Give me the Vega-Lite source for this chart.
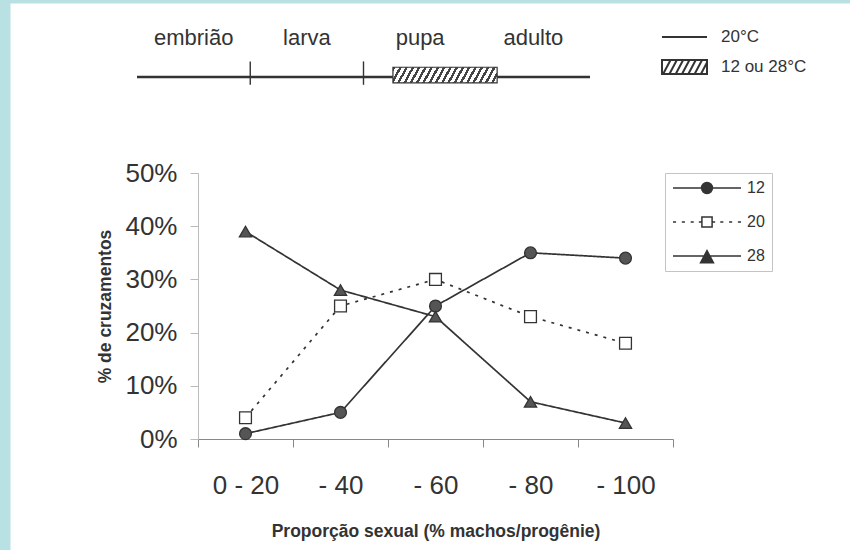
{
  "$schema": "https://vega.github.io/schema/vega-lite/v6.json",
  "width": 840,
  "height": 547,
  "autosize": {"type": "none"},
  "padding": {"left": 10, "top": 3, "right": 0, "bottom": 0},
  "background": "#b9e0e3",
  "view": {"fill": "white", "stroke": "transparent"},
  "config": {
    "view": {"fill": "white", "stroke": "transparent"},
    "font": "Liberation Sans",
    "axis": {"grid": false, "labelFont": "Liberation Sans", "titleFont": "Liberation Sans", "labelColor": "#333", "titleColor": "#333"},
    "legend": {"labelFont": "Liberation Sans", "labelColor": "#333"},
    "text": {"font": "Liberation Sans"}
  },
  "datasets": {
    "cruzamentos": [
      {"faixa": "0 - 20", "serie": "12", "pct": 0.01},
      {"faixa": "- 40", "serie": "12", "pct": 0.05},
      {"faixa": "- 60", "serie": "12", "pct": 0.25},
      {"faixa": "- 80", "serie": "12", "pct": 0.35},
      {"faixa": "- 100", "serie": "12", "pct": 0.34},
      {"faixa": "0 - 20", "serie": "20", "pct": 0.04},
      {"faixa": "- 40", "serie": "20", "pct": 0.25},
      {"faixa": "- 60", "serie": "20", "pct": 0.30},
      {"faixa": "- 80", "serie": "20", "pct": 0.23},
      {"faixa": "- 100", "serie": "20", "pct": 0.18},
      {"faixa": "0 - 20", "serie": "28", "pct": 0.39},
      {"faixa": "- 40", "serie": "28", "pct": 0.28},
      {"faixa": "- 60", "serie": "28", "pct": 0.23},
      {"faixa": "- 80", "serie": "28", "pct": 0.07},
      {"faixa": "- 100", "serie": "28", "pct": 0.03}
    ],
    "series": [
      {"serie": "12"},
      {"serie": "20"},
      {"serie": "28"}
    ],
    "estagios": [
      {"estagio": "embrião", "inicio": 0, "fim": 1, "centro": 0.5},
      {"estagio": "larva", "inicio": 1, "fim": 2, "centro": 1.5},
      {"estagio": "pupa", "inicio": 2, "fim": 3, "centro": 2.5},
      {"estagio": "adulto", "inicio": 3, "fim": 4, "centro": 3.5}
    ],
    "tratamento": [
      {"temperatura": "12 ou 28°C", "inicio": 2.26, "fim": 3.18}
    ],
    "temperaturas": [
      {"temperatura": "20°C"},
      {"temperatura": "12 ou 28°C"}
    ]
  },
  "layer": [
    {
      "data": {"name": "cruzamentos"},
      "encoding": {
        "x": {
          "field": "faixa", "type": "ordinal",
          "sort": ["0 - 20", "- 40", "- 60", "- 80", "- 100"],
          "scale": {"domain": ["0 - 20", "- 40", "- 60", "- 80", "- 100"], "range": [188, 663], "paddingInner": 0, "paddingOuter": 0},
          "axis": {
            "title": "Proporção sexual (% machos/progênie)",
            "titleFontSize": 17.5, "titleFontWeight": "bold", "titlePadding": 24,
            "labelFontSize": 26, "labelPadding": 25, "labelAngle": 0,
            "tickSize": 8, "tickBand": "extent", "offset": -111,
            "domainColor": "#888", "tickColor": "#888"
          }
        },
        "y": {
          "field": "pct", "type": "quantitative",
          "scale": {"domain": [0, 0.5], "range": [436, 170], "nice": false},
          "axis": {
            "title": "% de cruzamentos",
            "titleFontSize": 17.5, "titleFontWeight": "bold", "titlePadding": 10,
            "labelFontSize": 26, "labelPadding": 13,
            "values": [0, 0.1, 0.2, 0.3, 0.4, 0.5], "format": ".0%",
            "tickSize": 8, "offset": -188,
            "domainColor": "#bbb", "tickColor": "#bbb"
          }
        }
      },
      "layer": [
        {
          "mark": {"type": "line", "stroke": "#333", "strokeWidth": 1.7},
          "encoding": {
            "detail": {"field": "serie", "type": "nominal"},
            "strokeDash": {
              "field": "serie", "type": "nominal",
              "scale": {"domain": ["12", "20", "28"], "range": [[1, 0], [3, 6], [1, 0]]},
              "legend": null
            }
          }
        },
        {
          "transform": [{"filter": "datum.serie == '12'"}],
          "mark": {"type": "point", "shape": "circle", "filled": true, "fill": "#555555", "stroke": "#333", "strokeWidth": 1.3, "opacity": 1, "size": 140}
        },
        {
          "transform": [{"filter": "datum.serie == '20'"}],
          "mark": {"type": "point", "shape": "square", "filled": true, "fill": "#ffffff", "stroke": "#333", "strokeWidth": 1.3, "opacity": 1, "size": 140}
        },
        {
          "transform": [{"filter": "datum.serie == '28'"}],
          "mark": {"type": "point", "shape": "triangle-up", "filled": true, "fill": "#555555", "stroke": "#333", "strokeWidth": 1.3, "opacity": 1, "size": 150}
        }
      ]
    },
    {
      "data": {"name": "series"},
      "transform": [{"filter": "false"}],
      "mark": {"type": "point", "filled": false, "stroke": "#333", "strokeWidth": 1.5, "opacity": 1},
      "encoding": {
        "shape": {
          "field": "serie", "type": "nominal",
          "scale": {
            "domain": ["12", "20", "28"],
            "range": [
              "M-1,0H1M-0.16,0A0.16,0.16,0,1,0,0.16,0A0.16,0.16,0,1,0,-0.16,0M-0.12,0A0.12,0.12,0,1,0,0.12,0A0.12,0.12,0,1,0,-0.12,0M-0.08,0A0.08,0.08,0,1,0,0.08,0A0.08,0.08,0,1,0,-0.08,0M-0.04,0A0.04,0.04,0,1,0,0.04,0A0.04,0.04,0,1,0,-0.04,0",
              "M-1,0H-0.91M-0.74,0H-0.65M-0.48,0H-0.39M-0.24,0H-0.17M0.17,0H0.24M0.39,0H0.48M0.65,0H0.74M0.91,0H1M-0.15,-0.15H0.15V0.15H-0.15Z",
              "M-1,0H1M0,-0.16L0.19,0.2L-0.19,0.2ZM-0.021,-0.12H0.021M-0.042,-0.08H0.042M-0.063,-0.04H0.063M-0.106,0.04H0.106M-0.127,0.08H0.127M-0.148,0.12H0.148M-0.169,0.16H0.169"
            ]
          },
          "legend": {
            "orient": "none", "legendX": 655, "legendY": 170, "title": null,
            "symbolSize": 4624, "symbolStrokeWidth": 1.5, "symbolStrokeColor": "#333", "symbolOpacity": 1,
            "labelFontSize": 16, "labelOffset": 5, "padding": 7, "rowPadding": 18, "clipHeight": 16,
            "strokeColor": "#c4c4c4", "fillColor": "white"
          }
        }
      }
    },
    {
      "layer": [
        {
          "data": {"name": "estagios"},
          "mark": {"type": "rule", "stroke": "#333", "strokeWidth": 2.5},
          "encoding": {
            "x": {"field": "inicio", "type": "quantitative", "scale": {"domain": [0, 4], "range": [127, 580], "nice": false, "zero": false}, "axis": null},
            "x2": {"field": "fim"},
            "y": {"datum": 0, "type": "quantitative", "scale": {"domain": [0, 10], "range": [74, 35], "nice": false}, "axis": null}
          }
        },
        {
          "data": {"name": "estagios"},
          "transform": [{"filter": "datum.fim < 3"}],
          "mark": {"type": "rule", "stroke": "#333", "strokeWidth": 1.4},
          "encoding": {
            "x": {"field": "fim", "type": "quantitative", "scale": {"domain": [0, 4], "range": [127, 580], "nice": false, "zero": false}, "axis": null},
            "y": {"datum": -2, "type": "quantitative", "scale": {"domain": [0, 10], "range": [74, 35], "nice": false}, "axis": null},
            "y2": {"datum": 4}
          }
        },
        {
          "data": {"name": "estagios"},
          "mark": {"type": "text", "fontSize": 22, "color": "#333", "align": "center", "baseline": "middle"},
          "encoding": {
            "x": {"field": "centro", "type": "quantitative", "scale": {"domain": [0, 4], "range": [127, 580], "nice": false, "zero": false}, "axis": null},
            "y": {"datum": 10, "type": "quantitative", "scale": {"domain": [0, 10], "range": [74, 35], "nice": false}, "axis": null},
            "text": {"field": "estagio"}
          }
        },
        {
          "data": {"name": "tratamento"},
          "mark": {
            "type": "rect", "stroke": "#333", "strokeWidth": 1.2,
            "fill": {
              "gradient": "linear", "x1": 0, "y1": 0, "x2": 1.0745, "y2": 0.0878,
              "stops": [
                {"offset": 0, "color": "#444"}, {"offset": 0.0233, "color": "#444"}, {"offset": 0.0233, "color": "#fff"}, {"offset": 0.0556, "color": "#fff"},
                {"offset": 0.0556, "color": "#444"}, {"offset": 0.0789, "color": "#444"}, {"offset": 0.0789, "color": "#fff"}, {"offset": 0.1111, "color": "#fff"},
                {"offset": 0.1111, "color": "#444"}, {"offset": 0.1344, "color": "#444"}, {"offset": 0.1344, "color": "#fff"}, {"offset": 0.1667, "color": "#fff"},
                {"offset": 0.1667, "color": "#444"}, {"offset": 0.19, "color": "#444"}, {"offset": 0.19, "color": "#fff"}, {"offset": 0.2222, "color": "#fff"},
                {"offset": 0.2222, "color": "#444"}, {"offset": 0.2456, "color": "#444"}, {"offset": 0.2456, "color": "#fff"}, {"offset": 0.2778, "color": "#fff"},
                {"offset": 0.2778, "color": "#444"}, {"offset": 0.3011, "color": "#444"}, {"offset": 0.3011, "color": "#fff"}, {"offset": 0.3333, "color": "#fff"},
                {"offset": 0.3333, "color": "#444"}, {"offset": 0.3567, "color": "#444"}, {"offset": 0.3567, "color": "#fff"}, {"offset": 0.3889, "color": "#fff"},
                {"offset": 0.3889, "color": "#444"}, {"offset": 0.4122, "color": "#444"}, {"offset": 0.4122, "color": "#fff"}, {"offset": 0.4444, "color": "#fff"},
                {"offset": 0.4444, "color": "#444"}, {"offset": 0.4678, "color": "#444"}, {"offset": 0.4678, "color": "#fff"}, {"offset": 0.5, "color": "#fff"},
                {"offset": 0.5, "color": "#444"}, {"offset": 0.5233, "color": "#444"}, {"offset": 0.5233, "color": "#fff"}, {"offset": 0.5556, "color": "#fff"},
                {"offset": 0.5556, "color": "#444"}, {"offset": 0.5789, "color": "#444"}, {"offset": 0.5789, "color": "#fff"}, {"offset": 0.6111, "color": "#fff"},
                {"offset": 0.6111, "color": "#444"}, {"offset": 0.6344, "color": "#444"}, {"offset": 0.6344, "color": "#fff"}, {"offset": 0.6667, "color": "#fff"},
                {"offset": 0.6667, "color": "#444"}, {"offset": 0.69, "color": "#444"}, {"offset": 0.69, "color": "#fff"}, {"offset": 0.7222, "color": "#fff"},
                {"offset": 0.7222, "color": "#444"}, {"offset": 0.7456, "color": "#444"}, {"offset": 0.7456, "color": "#fff"}, {"offset": 0.7778, "color": "#fff"},
                {"offset": 0.7778, "color": "#444"}, {"offset": 0.8011, "color": "#444"}, {"offset": 0.8011, "color": "#fff"}, {"offset": 0.8333, "color": "#fff"},
                {"offset": 0.8333, "color": "#444"}, {"offset": 0.8567, "color": "#444"}, {"offset": 0.8567, "color": "#fff"}, {"offset": 0.8889, "color": "#fff"},
                {"offset": 0.8889, "color": "#444"}, {"offset": 0.9122, "color": "#444"}, {"offset": 0.9122, "color": "#fff"}, {"offset": 0.9444, "color": "#fff"},
                {"offset": 0.9444, "color": "#444"}, {"offset": 0.9678, "color": "#444"}, {"offset": 0.9678, "color": "#fff"}, {"offset": 1, "color": "#fff"}
              ]
            }
          },
          "encoding": {
            "x": {"field": "inicio", "type": "quantitative", "scale": {"domain": [0, 4], "range": [127, 580], "nice": false, "zero": false}, "axis": null},
            "x2": {"field": "fim"},
            "y": {"datum": -1.5, "type": "quantitative", "scale": {"domain": [0, 10], "range": [74, 35], "nice": false}, "axis": null},
            "y2": {"datum": 2.5}
          }
        },
        {
          "data": {"name": "temperaturas"},
          "transform": [{"filter": "false"}],
          "mark": {"type": "point", "filled": false, "stroke": "#333", "strokeWidth": 2, "opacity": 1},
          "encoding": {
            "shape": {
              "field": "temperatura", "type": "nominal",
              "scale": {
                "domain": ["20°C", "12 ou 28°C"],
                "range": [
                  "M-1,0H1",
                  "M-1,-0.31H1V0.31H-1ZM-0.95,0.31L-0.62,-0.31M-0.67,0.31L-0.34,-0.31M-0.39,0.31L-0.06,-0.31M-0.11,0.31L0.22,-0.31M0.17,0.31L0.5,-0.31M0.45,0.31L0.78,-0.31M0.73,0.31L1,-0.2"
                ]
              },
              "legend": {
                "orient": "none", "legendX": 651, "legendY": 25, "title": null,
                "symbolSize": 2025, "symbolStrokeWidth": 2, "symbolStrokeColor": "#333", "symbolOpacity": 1,
                "labelFontSize": 17, "labelOffset": 13, "padding": 0, "rowPadding": 12, "clipHeight": 18
              }
            }
          }
        }
      ]
    }
  ],
  "resolve": {"scale": {"x": "independent", "y": "independent", "shape": "independent", "fill": "independent"}}
}
